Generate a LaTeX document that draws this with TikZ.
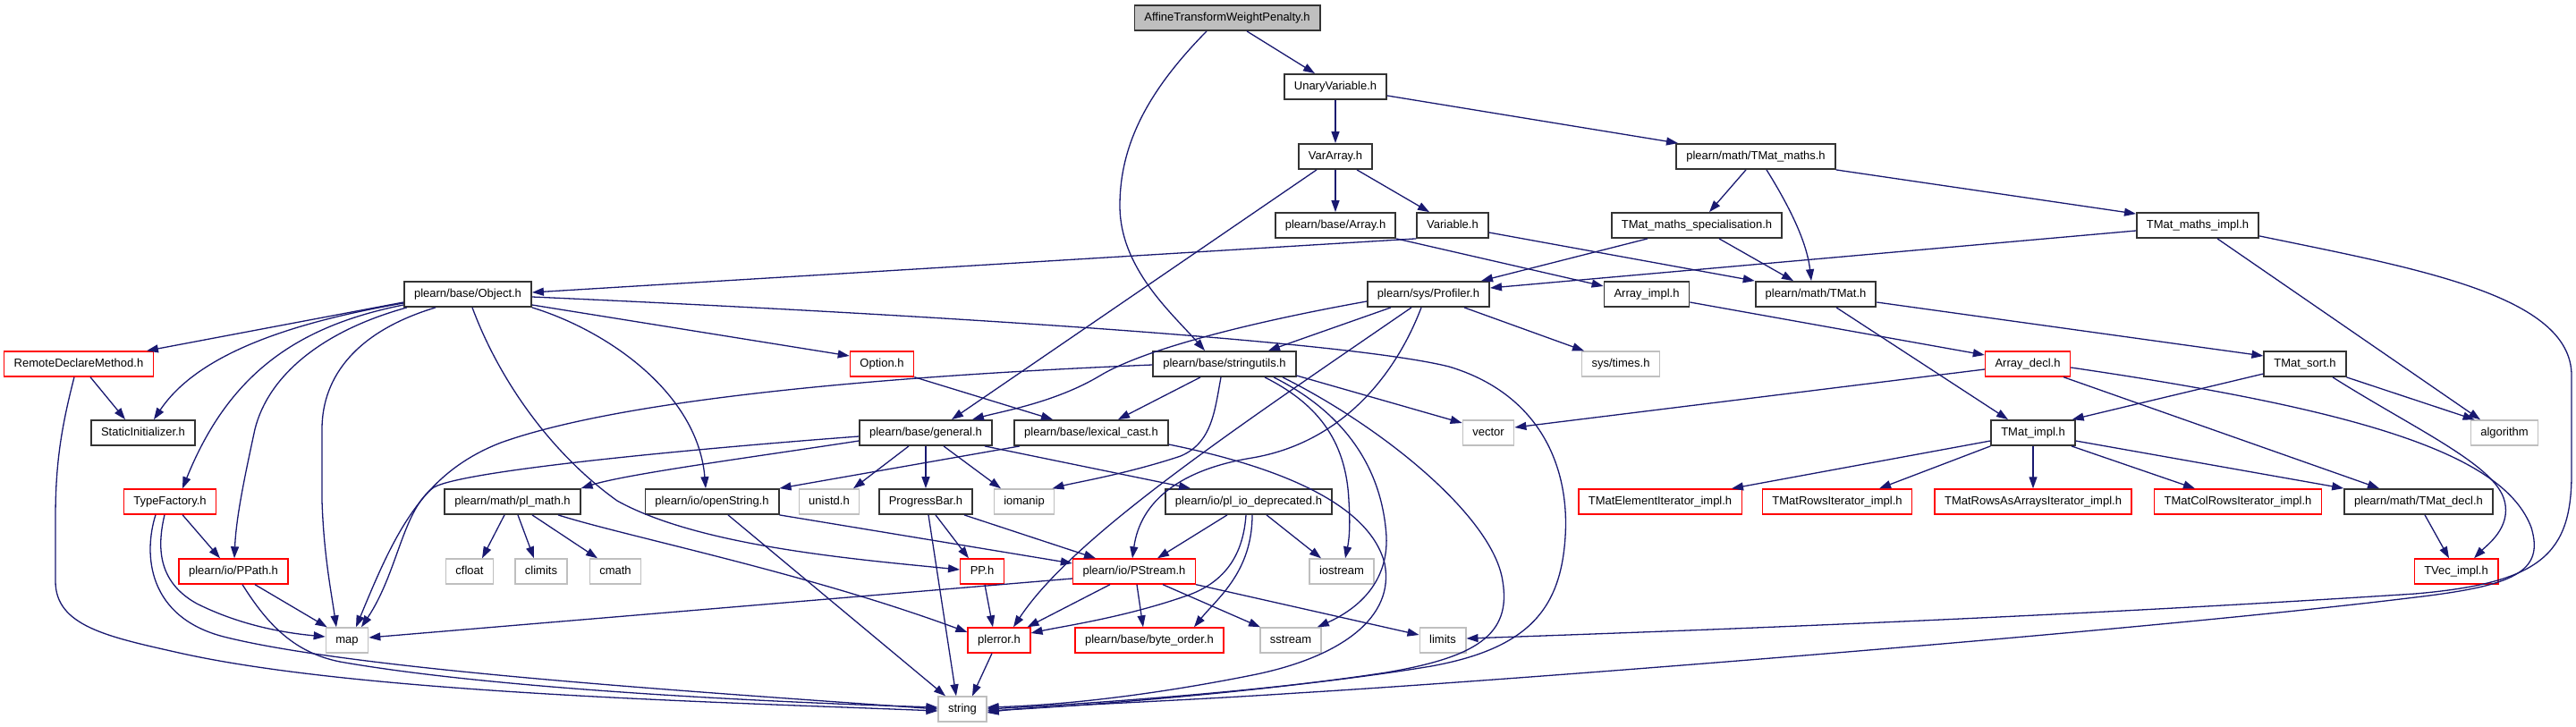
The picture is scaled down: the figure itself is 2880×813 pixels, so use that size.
\documentclass[tikz,border=0pt]{standalone}
\usepackage{fontspec}
\setmainfont{Liberation Sans}
\usetikzlibrary{arrows.meta}
\definecolor{edgec}{HTML}{191970}
\definecolor{bordc}{HTML}{333333}
\definecolor{redc}{HTML}{FF0000}
\definecolor{sysc}{HTML}{BFBFBF}
\definecolor{rootfill}{HTML}{BFBFBF}
\begin{document}
\begin{tikzpicture}[x=1pt,y=-1pt,
  nb/.style={draw, line width=1.8pt, minimum height=28pt, inner xsep=11pt, inner ysep=0pt,
    font=\fontsize{13}{15}\selectfont, text height=9.5pt, text depth=2.5pt, fill=white},
  hdrbox/.style={nb, draw=bordc},
  redbox/.style={nb, draw=redc, line width=1.4pt},
  sysbox/.style={nb, draw=sysc, line width=1.4pt},
  rootbox/.style={nb, draw=bordc, fill=rootfill},
  dep/.style={draw=edgec, line width=1.3pt, -{Triangle[length=13pt,width=9pt]}}]
\useasboundingbox (0,0) rectangle (2880,813);
% row 0
\node[rootbox] (root) at (1372,20) {AffineTransformWeightPenalty.h};
% row 1
\node[hdrbox] (uv) at (1493,97) {UnaryVariable.h};
% row 2
\node[hdrbox] (va) at (1493,175) {VarArray.h};
\node[hdrbox] (tmm) at (1963,175) {plearn/math/TMat\_maths.h};
% row 3
\node[hdrbox] (arr) at (1493,252) {plearn/base/Array.h};
\node[hdrbox] (var) at (1624,252) {Variable.h};
\node[hdrbox] (tms) at (1897,252) {TMat\_maths\_specialisation.h};
\node[hdrbox] (tmi) at (2457,252) {TMat\_maths\_impl.h};
% row 4
\node[hdrbox] (obj) at (523,329) {plearn/base/Object.h};
\node[hdrbox] (prof) at (1597,329) {plearn/sys/Profiler.h};
\node[hdrbox] (arri) at (1841,329) {Array\_impl.h};
\node[hdrbox] (tmat) at (2030,329) {plearn/math/TMat.h};
% row 5
\node[redbox] (rdm) at (88,407) {RemoteDeclareMethod.h};
\node[redbox] (opt) at (986,407) {Option.h};
\node[hdrbox] (su) at (1369,407) {plearn/base/stringutils.h};
\node[sysbox] (times) at (1812,407) {sys/times.h};
\node[redbox] (arrd) at (2267,407) {Array\_decl.h};
\node[hdrbox] (tsort) at (2577,407) {TMat\_sort.h};
% row 6
\node[hdrbox] (si) at (160,484) {StaticInitializer.h};
\node[hdrbox] (gen) at (1035,484) {plearn/base/general.h};
\node[hdrbox] (lex) at (1220,484) {plearn/base/lexical\_cast.h};
\node[sysbox] (vec) at (1664,484) {vector};
\node[hdrbox] (timpl) at (2273,484) {TMat\_impl.h};
\node[sysbox] (algo) at (2800,484) {algorithm};
% row 7
\node[redbox] (tf) at (190,561) {TypeFactory.h};
\node[hdrbox] (plm) at (573,561) {plearn/math/pl\_math.h};
\node[hdrbox] (os) at (796,561) {plearn/io/openString.h};
\node[sysbox] (unistd) at (927,561) {unistd.h};
\node[hdrbox] (pb) at (1035,561) {ProgressBar.h};
\node[sysbox] (iomanip) at (1145,561) {iomanip};
\node[hdrbox] (pio) at (1396,561) {plearn/io/pl\_io\_deprecated.h};
\node[redbox] (tei) at (1856,561) {TMatElementIterator\_impl.h};
\node[redbox] (tri) at (2054,561) {TMatRowsIterator\_impl.h};
\node[redbox] (traai) at (2273,561) {TMatRowsAsArraysIterator\_impl.h};
\node[redbox] (tcri) at (2502,561) {TMatColRowsIterator\_impl.h};
\node[hdrbox] (tdecl) at (2704,561) {plearn/math/TMat\_decl.h};
% row 8
\node[redbox] (ppath) at (261,639) {plearn/io/PPath.h};
\node[sysbox] (cfloat) at (525,639) {cfloat};
\node[sysbox] (climits) at (605,639) {climits};
\node[sysbox] (cmath) at (688,639) {cmath};
\node[redbox] (pp) at (1098,639) {PP.h};
\node[redbox] (ps) at (1268,639) {plearn/io/PStream.h};
\node[sysbox] (iostream) at (1500,639) {iostream};
\node[redbox] (tvec) at (2746,639) {TVec\_impl.h};
% row 9
\node[sysbox] (map) at (388,716) {map};
\node[redbox] (plerror) at (1117,716) {plerror.h};
\node[redbox] (bo) at (1285,716) {plearn/base/byte\_order.h};
\node[sysbox] (sstream) at (1443,716) {sstream};
\node[sysbox] (limits) at (1613,716) {limits};
% row 10
\node[sysbox] (string) at (1076,793) {string};

% edges
\draw[dep] ([xshift=22pt]root.south) -- ([xshift=-23pt]uv.north);
\draw[dep] ([xshift=-23pt]root.south) .. controls (1285,100) and (1252,160) .. (1252,230) .. controls (1252,300) and (1310,350) .. ([xshift=-22pt]su.north);
\draw[dep] (uv.south) -- (va.north);
\draw[dep] ([yshift=-10pt]uv.east) -- ([xshift=-87pt]tmm.north);
\draw[dep] (va.south) -- (arr.north);
\draw[dep] ([xshift=24pt]va.south) -- ([xshift=-26pt]var.north);
\draw[dep] ([xshift=-21pt]va.south) -- ([xshift=29pt]gen.north);
\draw[dep] ([xshift=-11pt]tmm.south) -- ([xshift=14pt]tms.north);
\draw[dep] ([xshift=12pt]tmm.south) .. controls (2000,230) and (2020,270) .. ([xshift=-5pt]tmat.north);
\draw[dep] (tmm.south east) -- ([yshift=-2pt]tmi.north west);
\draw[dep] (arr.south east) -- ([yshift=9pt]arri.west);
\draw[dep] (var.south west) -- ([yshift=2pt]obj.east);
\draw[dep] ([yshift=-8pt]var.east) -- (tmat.north west);
\draw[dep] ([xshift=-55pt]tms.south) -- ([xshift=59pt]prof.north);
\draw[dep] ([xshift=25pt]tms.south) -- ([xshift=-25pt]tmat.north);
\draw[dep] ([yshift=-6pt]tmi.west) -- ([yshift=7pt]prof.east);
\draw[dep] ([xshift=22pt]tmi.south) -- ([xshift=-27pt]algo.north);
\draw[dep] ([yshift=3pt]tmi.south east) .. controls (2700,300) and (2875,330) .. (2875,420) -- (2875,530) .. controls (2875,620) and (2840,652) .. (2700,664) .. controls (2300,690) and (1900,705) .. ([yshift=2pt]limits.east);
\draw[dep] ([yshift=-9pt]obj.west) -- ([xshift=-8pt]rdm.north east);
\draw[dep] ([yshift=-10pt]obj.west) .. controls (300,365) and (215,405) .. ([xshift=12pt]si.north);
\draw[dep] ([yshift=-12pt]obj.west) .. controls (330,365) and (255,420) .. ([xshift=14pt]tf.north);
\draw[dep] ([xshift=-68pt]obj.south) .. controls (360,370) and (300,420) .. (285,480) .. controls (272,540) and (264,580) .. ([xshift=1pt]ppath.north);
\draw[dep] ([xshift=-36pt]obj.south) .. controls (400,370) and (360,420) .. (360,480) -- (360,560) .. controls (362,620) and (370,660) .. ([xshift=-12pt]map.north);
\draw[dep] ([xshift=5pt]obj.south) .. controls (560,430) and (620,510) .. (690,560) .. controls (780,610) and (950,625) .. ([yshift=2pt]pp.west);
\draw[dep] (obj.south east) .. controls (680,370) and (780,440) .. ([xshift=-7pt]os.north);
\draw[dep] ([yshift=-12pt]obj.east) -- ([yshift=9pt]opt.west);
\draw[dep] ([yshift=-3pt]obj.east) .. controls (1000,350) and (1500,380) .. (1620,410) .. controls (1720,440) and (1755,520) .. (1750,600) .. controls (1745,680) and (1710,725) .. (1600,745) .. controls (1450,770) and (1250,785) .. (string.east);
\draw[dep] ([xshift=13pt]rdm.south) -- ([xshift=-20pt]si.north);
\draw[dep] ([xshift=-5pt]rdm.south) .. controls (68,480) and (62,520) .. (62,580) -- (62,650) .. controls (62,700) and (120,712) .. (200,730) .. controls (400,775) and (800,785) .. ([yshift=-2pt]string.west);
\draw[dep] (opt.south east) -- ([xshift=-43pt]lex.north);
\draw[dep] ([xshift=-27pt]su.south) -- ([xshift=30pt]lex.north);
\draw[dep] ([xshift=-4pt]su.south) .. controls (1358,460) and (1355,495) .. (1320,510) .. controls (1260,530) and (1200,540) .. ([xshift=-3pt]iomanip.north east);
\draw[dep] ([yshift=-1pt]su.west) .. controls (1000,420) and (700,445) .. (560,495) .. controls (470,530) and (440,600) .. ([xshift=10pt]map.north);
\draw[dep] ([yshift=-13pt]su.east) -- ([yshift=11pt]vec.west);
\draw[dep] ([xshift=45pt]su.south) .. controls (1470,450) and (1505,490) .. (1508,560) .. controls (1510,590) and (1508,605) .. ([xshift=4pt]iostream.north);
\draw[dep] ([xshift=55pt]su.south) .. controls (1500,460) and (1545,520) .. (1550,600) .. controls (1552,650) and (1520,680) .. ([xshift=-5pt]sstream.north east);
\draw[dep] ([xshift=65pt]su.south) .. controls (1550,480) and (1670,580) .. (1680,650) .. controls (1690,710) and (1650,735) .. (1550,752) .. controls (1400,775) and (1200,790) .. ([yshift=-2pt]string.east);
\draw[dep] ([yshift=-8pt]prof.west) .. controls (1400,360) and (1280,390) .. (1230,420) .. controls (1180,450) and (1120,460) .. ([xshift=52pt]gen.north);
\draw[dep] ([xshift=-42pt]prof.south) -- ([xshift=49pt]su.north);
\draw[dep] ([xshift=-19pt]prof.south) .. controls (1380,480) and (1200,600) .. ([xshift=16pt]plerror.north);
\draw[dep] ([xshift=-8pt]prof.south) .. controls (1560,420) and (1500,495) .. (1400,512) .. controls (1320,525) and (1275,560) .. ([xshift=-2pt]ps.north);
\draw[dep] ([xshift=40pt]prof.south) -- ([xshift=-41pt]times.north);
\draw[dep] ([yshift=-9pt]arri.east) -- ([yshift=10pt]arrd.west);
\draw[dep] ([xshift=23pt]tmat.south) -- ([xshift=-28pt]timpl.north);
\draw[dep] ([yshift=-9pt]tmat.east) -- ([yshift=9pt]tsort.west);
\draw[dep] ([yshift=-6pt]arrd.west) -- ([yshift=6pt]vec.east);
\draw[dep] ([xshift=40pt]arrd.south) -- ([xshift=-44pt]tdecl.north);
\draw[dep] ([yshift=-4pt]arrd.east) .. controls (2650,460) and (2800,510) .. (2830,590) .. controls (2845,640) and (2810,655) .. (2700,668) .. controls (2400,705) and (1700,760) .. (1450,775) .. controls (1300,785) and (1150,790) .. ([yshift=-4pt]string.east);
\draw[dep] ([yshift=-11pt]tsort.west) -- ([xshift=-4pt]timpl.north east);
\draw[dep] (tsort.south east) -- ([xshift=5pt]algo.north west);
\draw[dep] ([xshift=31pt]tsort.south) .. controls (2700,480) and (2790,520) .. (2800,560) .. controls (2808,590) and (2780,610) .. ([xshift=20pt]tvec.north);
\draw[dep] ([yshift=-9pt]timpl.west) -- ([xshift=80pt]tei.north);
\draw[dep] (timpl.south west) -- ([xshift=47pt]tri.north);
\draw[dep] (timpl.south) -- (traai.north);
\draw[dep] ([xshift=43pt]timpl.south) -- ([xshift=-48pt]tcri.north);
\draw[dep] ([yshift=-9pt]timpl.east) -- (tdecl.north west);
\draw[dep] ([xshift=7pt]tdecl.south) -- ([xshift=-8pt]tvec.north);
\draw[dep] ([yshift=-4pt]gen.west) .. controls (800,500) and (520,525) .. (485,545) .. controls (450,570) and (445,640) .. ([xshift=16pt]map.north);
\draw[dep] ([yshift=-9pt]gen.west) .. controls (850,510) and (700,530) .. (plm.north east);
\draw[dep] ([xshift=-19pt]gen.south) -- ([xshift=27pt]unistd.north);
\draw[dep] (gen.south) -- (pb.north);
\draw[dep] ([xshift=20pt]gen.south) -- ([xshift=-26pt]iomanip.north);
\draw[dep] ([xshift=66pt]gen.south) -- ([xshift=-65pt]pio.north);
\draw[dep] ([xshift=-80pt]lex.south) -- (os.north east);
\draw[dep] ([yshift=-13pt]lex.east) .. controls (1420,520) and (1530,560) .. (1548,630) .. controls (1560,690) and (1500,735) .. (1400,755) .. controls (1300,775) and (1200,788) .. ([yshift=2pt]string.east);
\draw[dep] ([xshift=-9pt]plm.south) -- ([xshift=14pt]cfloat.north);
\draw[dep] ([xshift=6pt]plm.south) -- ([xshift=-8pt]climits.north);
\draw[dep] ([xshift=22pt]plm.south) -- ([xshift=-20pt]cmath.north);
\draw[dep] ([xshift=51pt]plm.south) .. controls (700,600) and (900,640) .. ([yshift=9pt]plerror.west);
\draw[dep] ([xshift=18pt]os.south) -- ([xshift=-19pt]string.north);
\draw[dep] (os.south east) -- ([yshift=9pt]ps.west);
\draw[dep] ([xshift=3pt]pb.south) -- ([xshift=-7pt]string.north);
\draw[dep] ([xshift=11pt]pb.south) -- ([xshift=-15pt]pp.north);
\draw[dep] ([xshift=43pt]pb.south) -- ([xshift=-43pt]ps.north);
\draw[dep] ([xshift=-24pt]pio.south) -- ([xshift=26pt]ps.north);
\draw[dep] ([xshift=-3pt]pio.south) .. controls (1390,620) and (1370,650) .. (1330,665) .. controls (1260,690) and (1190,700) .. ([yshift=8pt]plerror.east);
\draw[dep] ([xshift=4pt]pio.south) .. controls (1400,640) and (1360,670) .. ([xshift=50pt]bo.north);
\draw[dep] ([xshift=20pt]pio.south) -- ([xshift=-23pt]iostream.north);
\draw[dep] ([xshift=3pt]pp.south) -- ([xshift=-7pt]plerror.north);
\draw[dep] ([xshift=-27pt]ps.south) -- ([xshift=-4pt]plerror.north east);
\draw[dep] ([xshift=3pt]ps.south) -- ([xshift=-7pt]bo.north);
\draw[dep] ([xshift=32pt]ps.south) -- ([xshift=-34pt]sstream.north);
\draw[dep] (ps.south east) -- ([yshift=6pt]limits.west);
\draw[dep] ([yshift=-8pt]ps.west) -- ([yshift=3pt]map.east);
\draw[dep] ([xshift=-8pt]plerror.south) -- ([xshift=11pt]string.north);
\draw[dep] ([xshift=14pt]tf.south) -- ([xshift=-15pt]ppath.north);
\draw[dep] ([xshift=-6pt]tf.south) .. controls (176,610) and (175,650) .. (220,675) .. controls (270,700) and (320,708) .. ([yshift=4pt]map.west);
\draw[dep] ([xshift=-16pt]tf.south) .. controls (160,620) and (165,690) .. (250,712) .. controls (400,750) and (800,775) .. (string.west);
\draw[dep] ([xshift=24pt]ppath.south) -- ([xshift=2pt]map.north west);
\draw[dep] ([xshift=10pt]ppath.south) .. controls (300,700) and (330,730) .. (380,740) .. controls (550,770) and (850,785) .. ([yshift=2pt]string.west);
\end{tikzpicture}
\end{document}
